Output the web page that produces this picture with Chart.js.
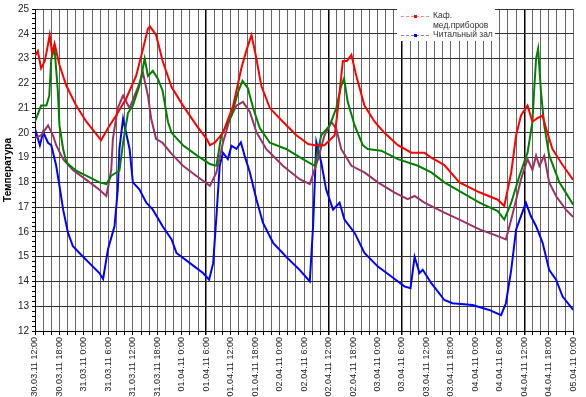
<!DOCTYPE html>
<html>
<head>
<meta charset="utf-8">
<script src="https://cdn.jsdelivr.net/npm/chart.js@4.4.1/dist/chart.umd.min.js"></script>
<style>
  html, body { margin: 0; padding: 0; background: #fff; }
  #wrap { width: 586px; height: 397px; }
</style>
</head>
<body>
<div id="wrap"><canvas id="tempChart" width="586" height="397"></canvas></div>
<script>
// hours since 30.03.11 12:00
const redHours = [0, 0.7, 1.5, 2.4, 3.0, 3.6, 4.2, 4.8, 6.0, 7.7, 10.1, 12.6, 15.0, 16.2, 18.3, 19.9, 22.4, 24.8, 26.5, 27.7, 28.2, 29.7, 31.3, 33.5, 36.3, 39.6, 42.1, 42.9, 44.1, 46.1, 48.6, 50.6, 51.8, 53.1, 54.3, 55.5, 57.6, 60.8, 64.1, 67.0, 68.6, 71.0, 73.5, 74.3, 75.5, 76.5, 77.6, 78.8, 80.8, 83.3, 85.7, 89.0, 92.3, 95.5, 97.2, 100.4, 104.1, 109.0, 113.5, 115.1, 116.8, 118.0, 119.2, 120.8, 122.0, 123.3, 124.5, 125.3, 126.9, 129.4, 132];
const redTemps = [23.1, 23.3, 22.6, 22.9, 23.4, 23.95, 23.2, 23.6, 22.74, 21.9, 21.1, 20.45, 19.96, 19.7, 20.3, 20.7, 21.4, 22.3, 23.4, 24.2, 24.3, 23.95, 22.9, 21.85, 21.1, 20.3, 19.76, 19.5, 19.6, 20.0, 21.1, 22.6, 23.3, 23.95, 23.0, 21.9, 21.0, 20.45, 19.9, 19.55, 19.5, 19.5, 19.9, 21.0, 22.9, 22.9, 23.15, 22.3, 21.1, 20.45, 20.0, 19.5, 19.2, 19.2, 19.0, 18.7, 18.0, 17.6, 17.3, 17.05, 18.4, 19.9, 20.7, 21.1, 20.45, 20.6, 20.7, 20.2, 19.35, 18.7, 18.1];

const greenHours = [0, 1.5, 2.8, 3.5, 4.0, 4.8, 5.6, 6.0, 6.9, 7.7, 10.1, 13.4, 15.8, 17.5, 18.7, 20.7, 21.6, 22.8, 24.0, 25.6, 26.9, 27.7, 28.9, 30.1, 31.3, 32.6, 33.5, 36.3, 39.6, 42.9, 44.5, 45.7, 48.2, 49.8, 50.9, 52.2, 53.5, 55.1, 57.6, 61.6, 65.7, 68.6, 70.2, 72.3, 73.9, 75.1, 75.8, 76.7, 78.4, 80.4, 81.6, 84.9, 89.0, 93.9, 97.2, 100.4, 104.1, 109.0, 113.5, 115.1, 116.8, 118.8, 120.8, 122.0, 122.4, 122.9, 123.4, 124.1, 124.9, 126.1, 128.6, 132];
const greenTemps = [20.45, 21.1, 21.1, 21.5, 23.0, 23.4, 21.7, 20.3, 19.35, 18.8, 18.47, 18.2, 18.0, 17.93, 18.27, 18.47, 19.6, 20.8, 21.1, 21.9, 23.0, 22.3, 22.5, 22.2, 21.7, 20.45, 20.0, 19.5, 19.1, 18.74, 18.67, 19.9, 20.7, 21.65, 22.1, 21.8, 21.0, 20.2, 19.6, 19.35, 18.94, 18.67, 19.9, 20.3, 21.0, 21.9, 22.2, 21.25, 20.3, 19.5, 19.35, 19.28, 18.94, 18.67, 18.4, 18.0, 17.65, 17.18, 16.84, 16.5, 17.18, 18.26, 19.2, 20.44, 21.65, 23.0, 23.4, 21.65, 20.3, 19.1, 18.0, 17.1];

const purpleHours = [0, 1.5, 3.2, 4.4, 5.2, 6.9, 9.3, 12.6, 15.8, 17.5, 18.7, 19.1, 20.3, 21.6, 23.2, 24.8, 26.5, 27.7, 28.5, 29.7, 31.3, 33.5, 36.3, 39.6, 42.9, 44.5, 46.1, 47.8, 49.4, 51.0, 52.7, 54.3, 56.7, 60.8, 64.9, 67.4, 69.4, 71.0, 72.7, 73.9, 75.1, 77.6, 80.8, 84.1, 88.2, 91.4, 93.1, 95.5, 100.4, 104.1, 109.0, 113.5, 115.5, 116.8, 118.0, 119.2, 120.8, 122.0, 122.9, 123.7, 124.9, 126.1, 127.8, 130.2, 132];
const purpleTemps = [19.8, 19.9, 20.3, 19.9, 19.5, 18.94, 18.5, 18.1, 17.7, 17.45, 18.5, 19.75, 21.0, 21.5, 21.0, 21.65, 22.4, 21.5, 20.57, 19.75, 19.6, 19.15, 18.67, 18.26, 17.86, 18.4, 19.6, 20.57, 21.1, 21.25, 20.84, 20.03, 19.35, 18.67, 18.13, 17.93, 18.94, 19.9, 20.44, 20.16, 19.35, 18.67, 18.4, 18.0, 17.59, 17.32, 17.45, 17.18, 16.78, 16.5, 16.1, 15.83, 15.7, 16.5, 17.3, 18.13, 18.94, 18.5, 19.08, 18.67, 19.08, 18.0, 17.45, 16.9, 16.6];

const blueHours = [0, 1.2, 2.0, 3.2, 4.0, 5.2, 6.0, 6.9, 8.1, 9.3, 11.8, 14.2, 15.8, 16.7, 17.9, 19.5, 20.3, 20.7, 21.6, 23.2, 24.0, 25.6, 27.3, 28.9, 31.3, 33.5, 34.7, 38.0, 41.2, 42.7, 43.7, 44.5, 45.3, 46.1, 47.3, 48.2, 49.4, 50.5, 51.4, 52.7, 54.3, 55.9, 58.4, 61.6, 64.9, 67.4, 68.2, 69.0, 70.2, 71.4, 73.1, 74.7, 75.9, 78.4, 80.8, 84.1, 87.4, 90.6, 92.1, 93.1, 94.3, 95.1, 97.2, 100.4, 102.4, 107.3, 111.4, 114.3, 115.5, 116.8, 118.0, 119.2, 120.4, 121.6, 122.9, 124.5, 126.1, 127.8, 129.4, 132];
const blueTemps = [20.16, 19.5, 20.03, 19.6, 19.5, 18.67, 17.86, 16.9, 15.96, 15.42, 15.0, 14.6, 14.34, 14.1, 15.3, 16.23, 17.7, 19.35, 20.57, 19.35, 18.0, 17.72, 17.18, 16.9, 16.23, 15.7, 15.15, 14.74, 14.34, 14.07, 14.74, 16.64, 18.67, 19.2, 18.94, 19.48, 19.35, 19.62, 19.08, 18.4, 17.32, 16.37, 15.56, 15.0, 14.47, 14.0, 16.23, 19.62, 18.8, 17.72, 16.9, 17.18, 16.5, 15.96, 15.15, 14.6, 14.2, 13.8, 13.73, 15.0, 14.34, 14.47, 13.93, 13.25, 13.12, 13.05, 12.85, 12.64, 13.12, 14.47, 16.1, 16.64, 17.18, 16.64, 16.23, 15.56, 14.47, 14.07, 13.39, 12.85];

const seriesNames = ['Каф.\nмед.приборов', '', '', 'Читальный зал'];
const markedHours = [42, 72, 90, 120];

const pts = (hs, ts) => hs.map((h, i) => ({ x: h, y: ts[i] }));

// label for an hour offset from 30.03.11 12:00
function hourLabel(h) {
    const total = 12 + h;
    let day = 30 + Math.floor(total / 24);
    let month = 3;
    if (day > 31) { day -= 31; month = 4; }
    const hh = total % 24;
    const dd = String(day).padStart(2, '0');
    return dd + '.0' + month + '.11 ' + hh + ':00';
}

const font = "'Liberation Sans', Arial, sans-serif";

// excel-like legend sitting inside the plot
const boxLegend = {
    id: 'boxLegend',
    afterDraw(chart) {
        const c = chart.ctx;
        c.save();
        c.fillStyle = '#fff';
        c.fillRect(397, 9, 98, 32);
        const rows = [
            { color: '#ff0000', line: '#ff8c8c', y: 16, text: ['Каф.', 'мед.приборов'] },
            { color: '#0000ff', line: '#8080ff', y: 35, text: ['Читальный зал'] }
        ];
        c.font = '8.5px ' + font;
        c.textBaseline = 'middle';
        rows.forEach(r => {
            c.strokeStyle = r.line;
            c.lineWidth = 1;
            c.setLineDash([3, 2]);
            c.beginPath();
            c.moveTo(401, r.y + 0.5);
            c.lineTo(430, r.y + 0.5);
            c.stroke();
            c.setLineDash([]);
            c.fillStyle = r.color;
            c.fillRect(414, r.y - 1, 3, 3);
            c.fillStyle = '#333';
            r.text.forEach((t, i) => c.fillText(t, 433, r.y + i * 10));
        });
        c.restore();
    }
};

new Chart(document.getElementById('tempChart'), {
    type: 'line',
    data: {
        datasets: [
            { label: seriesNames[0], data: pts(redHours, redTemps), borderColor: '#ff0000' },
            { label: seriesNames[1], data: pts(greenHours, greenTemps), borderColor: '#008000' },
            { label: seriesNames[2], data: pts(purpleHours, purpleTemps), borderColor: '#993366' },
            { label: seriesNames[3], data: pts(blueHours, blueTemps), borderColor: '#0000ff' }
        ].map(ds => Object.assign(ds, {
            borderWidth: 2,
            pointRadius: 0,
            tension: 0,
            fill: false
        }))
    },
    options: {
        responsive: false,
        animation: false,
        layout: { padding: { top: 8, right: 7, left: 0, bottom: 0 } },
        scales: {
            x: {
                type: 'linear',
                min: 0,
                max: 132,
                border: { color: '#000' },
                afterFit: s => { s.height = 66; },
                grid: {
                    color: ctx => markedHours.includes(ctx.tick.value) ? '#000' : '#666',
                    lineWidth: ctx => markedHours.includes(ctx.tick.value) ? 1.5 : 1,
                    tickLength: 4,
                    tickColor: '#000'
                },
                ticks: {
                    stepSize: 2,
                    autoSkip: false,
                    maxRotation: 90,
                    minRotation: 90,
                    padding: 2,
                    color: '#222',
                    font: { family: font, size: 9 },
                    callback: v => v % 6 === 0 ? hourLabel(v) : ''
                }
            },
            y: {
                min: 12,
                max: 25,
                border: { color: '#000' },
                afterFit: s => { s.width = 35; },
                grid: {
                    color: ctx => Math.abs(ctx.tick.value - Math.round(ctx.tick.value)) < 1e-6 ? '#333' : 'rgba(0,0,0,0)',
                    tickLength: 3,
                    tickColor: '#000'
                },
                ticks: {
                    stepSize: 0.2,
                    autoSkip: false,
                    padding: 3,
                    color: '#222',
                    font: { family: font, size: 10 },
                    callback: v => Math.abs(v - Math.round(v)) < 1e-6 ? Math.round(v) : ''
                },
                title: {
                    display: true,
                    text: 'Температура',
                    color: '#000',
                    padding: 2,
                    font: { family: font, size: 10, weight: 'bold' }
                }
            }
        },
        plugins: {
            legend: { display: false },
            tooltip: { enabled: false }
        }
    },
    plugins: [boxLegend]
});
</script>
</body>
</html>
